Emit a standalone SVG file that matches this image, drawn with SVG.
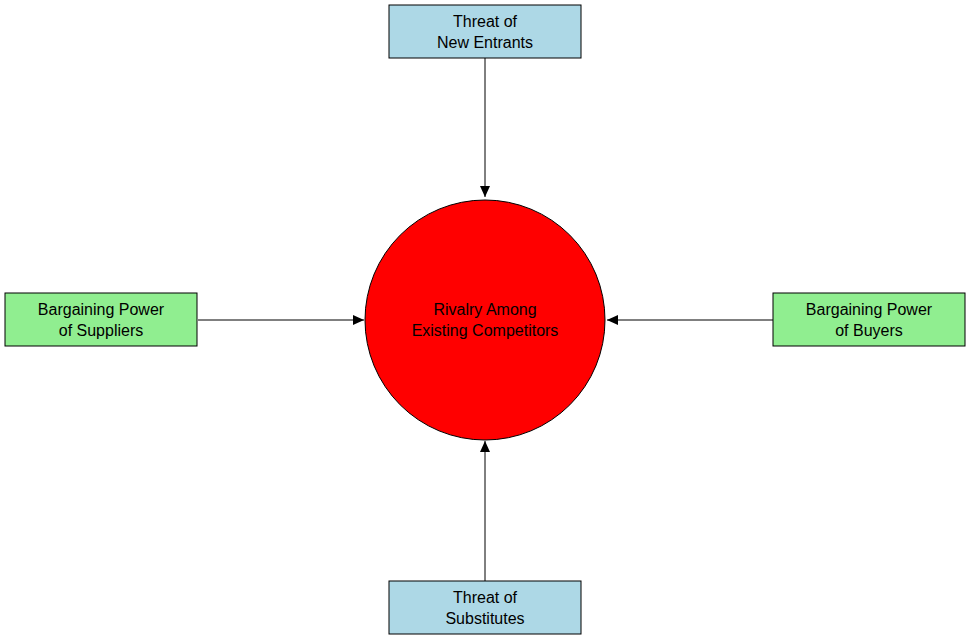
<svg xmlns="http://www.w3.org/2000/svg" width="971" height="639" viewBox="0 0 971 639">
<style>
.b{fill:#add8e6;stroke:#000;stroke-width:1}
.g{fill:#90ee90;stroke:#000;stroke-width:1}
text{font-family:"Liberation Sans",Arial,sans-serif;font-size:16px;text-anchor:middle;fill:#000}
.e{stroke:#000;stroke-width:1;fill:none;marker-end:url(#a)}
</style>
<defs><marker id="a" markerWidth="12" markerHeight="10" refX="11" refY="5" orient="auto" markerUnits="userSpaceOnUse"><path d="M0,0L11,5L0,10z" fill="#000"/></marker></defs>
<rect width="971" height="639" fill="#fff"/>
<g id="edges">
<path class="e" d="M485,58V197"/>
<path class="e" d="M198,320H364"/>
<path class="e" d="M773,320H607"/>
<path class="e" d="M485,581V441"/>
</g>
<g id="rivalry"><circle cx="485" cy="320" r="120" fill="#f00" stroke="#000"/><text x="485" y="315">Rivalry Among</text><text x="485" y="336">Existing Competitors</text></g>
<g id="entrants"><rect class="b" x="389" y="5" width="192" height="53"/><text x="485" y="27">Threat of</text><text x="485" y="48">New Entrants</text></g>
<g id="suppliers"><rect class="g" x="5" y="293" width="192" height="53"/><text x="101" y="315">Bargaining Power</text><text x="101" y="336">of Suppliers</text></g>
<g id="buyers"><rect class="g" x="773" y="293" width="192" height="53"/><text x="869" y="315">Bargaining Power</text><text x="869" y="336">of Buyers</text></g>
<g id="substitutes"><rect class="b" x="389" y="581" width="192" height="53"/><text x="485" y="603">Threat of</text><text x="485" y="624">Substitutes</text></g>
</svg>
